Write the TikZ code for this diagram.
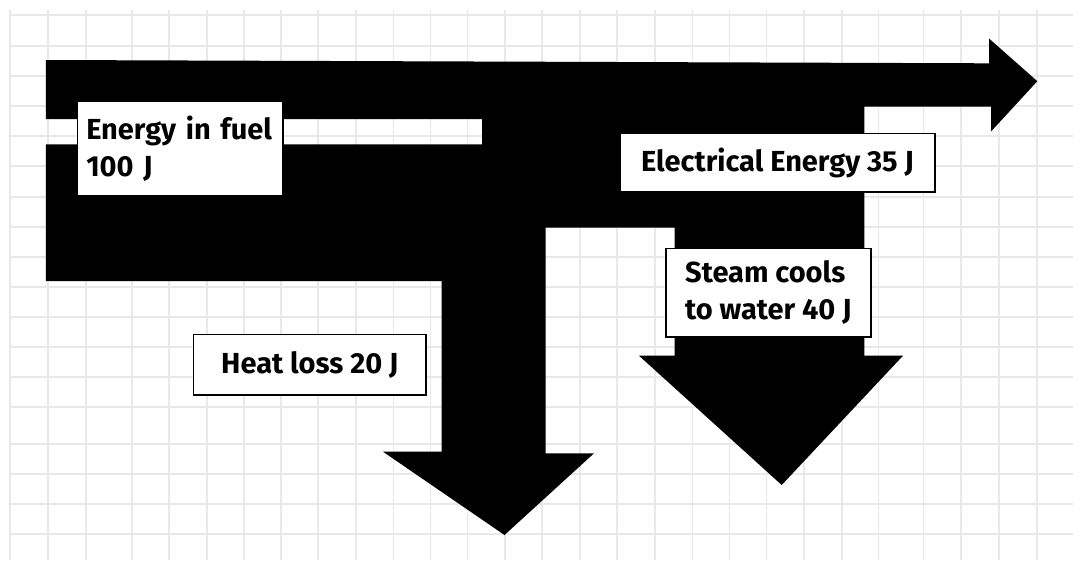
\documentclass[tikz,border=0pt]{standalone}
\usepackage{fontspec}
\setmainfont{Fira Sans}

\tikzset{
  gridline/.style={line width=1.8pt, black!9},
  labelbox/.style={draw=black, line width=1.6pt, fill=white, inner sep=0pt,
    font=\bfseries\fontsize{29}{36.6}\selectfont, align=left},
}

\begin{document}
\begin{tikzpicture}[x=1pt,y=-1pt]
  \useasboundingbox (0,0) rectangle (1073,560);
  \fill[white] (0,0) rectangle (1073,560);

  % squared paper
  \foreach \gx in {10.3,47.9,85.6,131.6,169,206.7,244.3,280.6,318.2,355.8,
    393.5,430.4,467.4,505,542,579.6,617.3,654.9,692.5,729.5,766.5,804,
    841.7,878.5,923.5,961.3,999.1,1036.7}
    \draw[gridline] (\gx,10) -- (\gx,560);
  \foreach \gy in {15,46,76,106,136,166,197,227,257,287,317,347,377,407,
    444,474.3,504.3,534.3}
    \draw[gridline] (10,\gy) -- (1073,\gy);

  % energy flow
  \fill[black] (45.8,60) -- (989,63.3) -- (989,38.5) -- (1037.3,81.2)
    -- (991,131.5) -- (991,106.6) -- (864.4,106.6) -- (864.4,355.7)
    -- (903,355.7) -- (781.7,485) -- (639,355.7) -- (674.7,355.7)
    -- (674.7,227.7) -- (545.6,227.7) -- (545.6,453.3) -- (594,453.3)
    -- (504.5,535) -- (383,451.7) -- (441.5,451.7) -- (441.5,281)
    -- (45.8,281) -- (45.8,144.3) -- (482,144.3) -- (482,119)
    -- (45.8,119) -- cycle;

  % labels
  \node[labelbox, text width=188, minimum width=205.5, minimum height=95]
    (fuel) at (180.25,148.5) {Energy in fuel\\100 J};
  \node[labelbox, minimum width=315, minimum height=58.4]
    (elec) at (777.5,162.5) {Electrical Energy 35 J};
  \node[labelbox, minimum width=205.3, minimum height=88.4]
    (steam) at (768.35,292.5) {Steam cools\\to water 40 J};
  \node[labelbox, minimum width=232.5, minimum height=60.7]
    (heat) at (309.75,364.65) {Heat loss 20 J};
\end{tikzpicture}
\end{document}
